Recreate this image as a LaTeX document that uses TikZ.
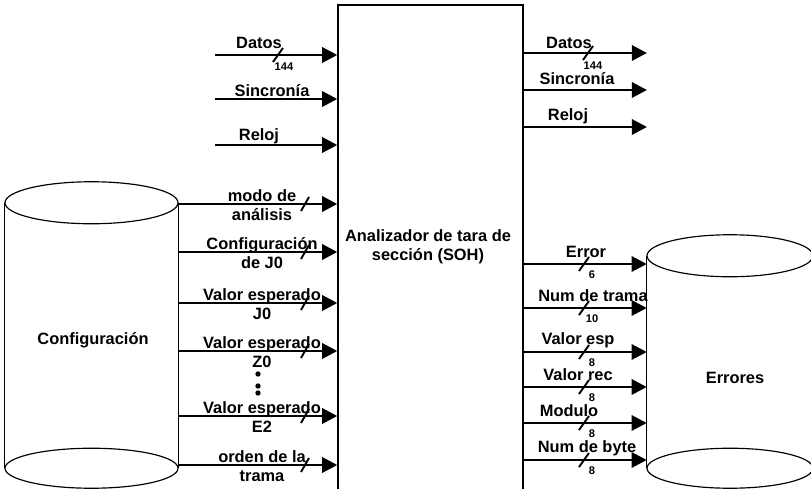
\documentclass[tikz,border=0pt]{standalone}
\usepackage{fontspec}
\setmainfont{Liberation Sans}
\usetikzlibrary{arrows.meta}

\tikzset{
  block/.style={draw, line width=1.2pt, inner sep=0pt},
  store/.style={inner sep=0pt},
  wall/.style={line width=1pt},
  bus/.style={line width=2.5pt, -{Triangle[length=13pt,width=13pt]}},
  tick/.style={line width=1.6pt},
  lbl/.style={font=\bfseries\fontsize{14}{16.5}\selectfont, align=center, inner sep=0pt},
  bits/.style={font=\bfseries\fontsize{9.5}{11}\selectfont, inner sep=0pt},
}

\begin{document}
\begin{tikzpicture}[x=0.03cm, y=-0.03cm]
  \useasboundingbox (0,0) rectangle (811,489);
  \clip (0,0) rectangle (811,489);

  % analyser block (open at the bottom edge)
  \node[block, minimum width=5.55cm, minimum height=15.45cm] (soh) at (430.5,262.5) {};
  \node[lbl] (soh-txt) at (428,247) {Analizador de tara de\\sección (SOH)};

  % configuration store
  \node[store, minimum width=5.19cm, minimum height=7.95cm] (cfg) at (91.5,335.5) {};
  \draw[wall] (cfg.north west) -- (cfg.south west) (cfg.north east) -- (cfg.south east);
  \draw[wall] (cfg.north) ellipse [x radius=2.595cm, y radius=0.63cm];
  \draw[wall] (cfg.south) ellipse [x radius=2.595cm, y radius=0.6cm];
  \node[lbl] (cfg-txt) at (93,340) {Configuración};

  % error store
  \node[store, minimum width=4.98cm, minimum height=6.36cm] (err) at (730,362) {};
  \draw[wall] (err.north west) -- (err.south west) (err.north east) -- (err.south east);
  \draw[wall] (err.north) ellipse [x radius=2.49cm, y radius=0.63cm];
  \draw[wall] (err.south) ellipse [x radius=2.49cm, y radius=0.6cm];
  \node[lbl] (err-txt) at (735,378) {Errores};

  % top inputs
  \foreach \n/\y in {datos/55, sinc/99, reloj/145} {
    \coordinate (in-\n) at (215,\y);
    \draw[bus] (in-\n) -- (in-\n -| soh.west);
  }
  \node[lbl] (in-datos-l) at (259,43) {Datos};
  \node[lbl] (in-sinc-l) at (272,91) {Sincronía};
  \node[lbl] (in-reloj-l) at (259,136) {Reloj};
  \draw[tick] (278,55) ++(-5,7) -- ++(10,-14);
  \node[bits] (in-datos-w) at (284,67) {144};

  % top outputs
  \foreach \n/\y in {datos/53, sinc/90, reloj/127} {
    \coordinate (out-\n) at (647,\y);
    \draw[bus] (out-\n -| soh.east) -- (out-\n);
  }
  \node[lbl] (out-datos-l) at (569,43) {Datos};
  \node[lbl] (out-sinc-l) at (577,79) {Sincronía};
  \node[lbl] (out-reloj-l) at (568,116) {Reloj};
  \draw[tick] (588,53) ++(-5,7) -- ++(10,-14);
  \node[bits] (out-datos-w) at (593,66) {144};

  % configuration buses
  \foreach \y/\txt in {204/{modo de\\análisis}, 252/{Configuración\\de J0},
      303/{Valor esperado\\J0}, 351/{Valor esperado\\Z0},
      416/{Valor esperado\\E2}, 465/{orden de la\\trama}} {
    \draw[bus] (cfg.east |- 0,\y) -- (soh.west |- 0,\y);
    \draw[tick] (305,\y) ++(-4,7) -- ++(8,-14);
    \node[lbl] (cfg-\y) at (262,\y+1) {\txt};
  }
  \foreach \y in {374,386,393}
    \fill (258,\y) circle [radius=0.08cm];

  % error buses
  \foreach \y/\txt/\xl/\w in {264/Error/586/6, 308/Num de trama/593/10,
      352/Valor esp/578/8, 387/Valor rec/578/8,
      423/Modulo/569/8, 460/Num de byte/587/8} {
    \draw[bus] (soh.east |- 0,\y) -- (err.west |- 0,\y);
    \draw[tick] (584,\y) ++(-5,7) -- ++(10,-14);
    \node[lbl] (err-\y) at (\xl,\y-12) {\txt};
    \node[bits] (err-\y-w) at (592,\y+11) {\w};
  }
\end{tikzpicture}
\end{document}
